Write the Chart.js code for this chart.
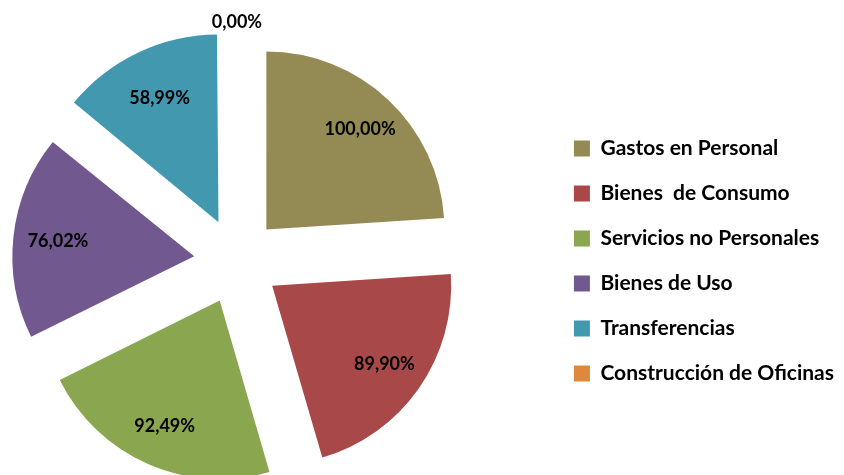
<!DOCTYPE html>
<html>
<head>
<meta charset="utf-8">
<script src="https://cdn.jsdelivr.net/npm/chart.js@4.4.0/dist/chart.umd.min.js"></script>
<style>
  html, body { margin: 0; padding: 0; background: #fff; overflow: hidden; }
  #wrap { width: 844px; height: 475px; position: relative; overflow: hidden; }
  /* el lienzo es más ancho y se corre a la izquierda: el gráfico queda descentrado como en el original */
  #pieChart { position: absolute; left: -76px; top: 0; }
</style>
</head>
<body>
<div id="wrap"><canvas id="pieChart" width="920" height="475"></canvas></div>
<script>
// === Datos: % de ejecución por partida ===
const categorias = ['Gastos en Personal', 'Bienes  de Consumo', 'Servicios no Personales', 'Bienes de Uso', 'Transferencias', 'Construcción de Oficinas'];
const porcentajes = [100.00, 89.90, 92.49, 76.02, 58.99, 0.00];
const colores = ['#948A54', '#A84849', '#8AA64F', '#71588F', '#4298AF', '#E0873E'];

const separacion = 43; // desplazamiento de cada porción (px)
const radio = 178;

// etiquetas de valor dentro de cada porción
const etiquetas = {
  id: 'etiquetas',
  afterDatasetsDraw(chart) {
    const ctx = chart.ctx;
    const meta = chart.getDatasetMeta(0);
    ctx.save();
    ctx.font = 'bold 18px Lato';
    ctx.fillStyle = '#000';
    ctx.textAlign = 'center';
    ctx.textBaseline = 'middle';
    meta.data.forEach((arc, i) => {
      const v = porcentajes[i];
      const mid = (arc.startAngle + arc.endAngle) / 2;
      const dist = separacion + arc.outerRadius * (v === 0 ? 1.1 : 0.77);
      const x = arc.x + Math.cos(mid) * dist;
      const y = arc.y + Math.sin(mid) * dist;
      ctx.fillText(v.toFixed(2).replace('.', ',') + '%', x, y);
    });
    ctx.restore();
  }
};

const pieChart = new Chart(document.getElementById('pieChart'), {
  type: 'pie',
  data: {
    labels: categorias,
    datasets: [{
      data: porcentajes,
      backgroundColor: colores,
      borderWidth: 0,
      offset: separacion * 4 // chart.js aplica offset/4
    }]
  },
  options: {
    responsive: false,
    animation: false,
    radius: radio,
    layout: { padding: { left: 0, right: 0, top: 47, bottom: 0 } },
    plugins: {
      legend: {
        display: true,
        position: 'right',
        labels: {
          boxWidth: 16,
          boxHeight: 16,
          padding: 24,
          color: '#000',
          font: { family: 'Lato', weight: 'bold', size: 21 }
        }
      },
      tooltip: { enabled: false }
    }
  },
  plugins: [etiquetas]
});
</script>
</body>
</html>
